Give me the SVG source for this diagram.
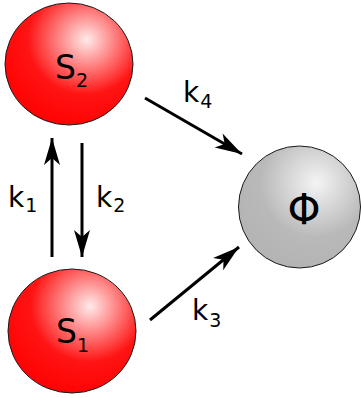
<svg xmlns="http://www.w3.org/2000/svg" width="361" height="398" viewBox="0 0 361 398">
<style>
.ball{stroke:#1a1a1a;stroke-width:1}
.lbl{font-family:"DejaVu Sans",sans-serif;fill:#000}
.big{font-size:33px}
.k{font-size:28px}
.sub{font-size:19px}
.conn{stroke:#000;stroke-width:3;fill:none}
</style>
<defs>
<radialGradient id="red" cx="0.62" cy="0.3" r="0.75" fx="0.64" fy="0.3">
<stop offset="0" stop-color="#ffeaea"/>
<stop offset="0.6" stop-color="#ff1414"/>
<stop offset="1" stop-color="#ff0000"/>
</radialGradient>
<radialGradient id="grey" cx="0.62" cy="0.3" r="0.75" fx="0.64" fy="0.3">
<stop offset="0" stop-color="#f4f4f4"/>
<stop offset="0.6" stop-color="#b9b9b9"/>
<stop offset="1" stop-color="#b3b3b3"/>
</radialGradient>
<marker id="ah" markerUnits="userSpaceOnUse" markerWidth="30" markerHeight="20" viewBox="-28 -10 30 20" refX="0" refY="0" orient="auto" overflow="visible">
<path d="M0,0 L-27,-8 L-20,0 L-27,8 Z" fill="#000"/>
</marker>
</defs>
<g id="connectors">
<line class="conn" x1="52" y1="257" x2="52" y2="138" marker-end="url(#ah)"/>
<line class="conn" x1="82" y1="143" x2="82" y2="257" marker-end="url(#ah)"/>
<line class="conn" x1="145" y1="98" x2="242" y2="154" marker-end="url(#ah)"/>
<line class="conn" x1="150" y1="320" x2="239" y2="247" marker-end="url(#ah)"/>
<text class="lbl k" x="8" y="207">k<tspan class="sub" dx="1" dy="5">1</tspan></text>
<text class="lbl k" x="96" y="207">k<tspan class="sub" dx="1" dy="5">2</tspan></text>
<text class="lbl k" x="183" y="102">k<tspan class="sub" dx="1" dy="6">4</tspan></text>
<text class="lbl k" x="192" y="320">k<tspan class="sub" dx="1" dy="7">3</tspan></text>
</g>
<g id="S2">
<ellipse class="ball" cx="69" cy="64" rx="64" ry="61" fill="url(#red)"/>
<text class="lbl big" x="55" y="79">S<tspan class="sub" dy="8">2</tspan></text>
</g>
<g id="S1">
<ellipse class="ball" cx="72" cy="331" rx="64" ry="62" fill="url(#red)"/>
<text class="lbl big" x="56" y="343">S<tspan class="sub" dy="9">1</tspan></text>
</g>
<g id="Phi">
<ellipse class="ball" cx="299.5" cy="207" rx="61" ry="61" fill="url(#grey)"/>
<text class="lbl" style="font-size:42px" x="304" y="224" text-anchor="middle">Φ</text>
</g>
</svg>
